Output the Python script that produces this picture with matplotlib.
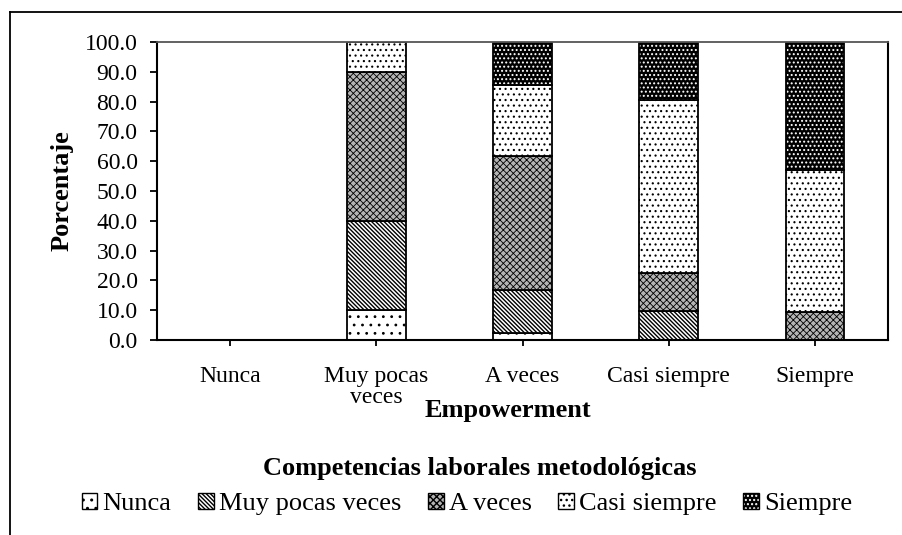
import matplotlib
matplotlib.use("Agg")
import matplotlib.pyplot as plt
from matplotlib.patches import Patch
from matplotlib.lines import Line2D
import numpy as np

plt.rcParams["font.family"] = ["Liberation Serif", "DejaVu Serif"]

# Data
categories = ["Nunca", "Muy pocas\nveces", "A veces", "Casi siempre", "Siempre"]
series_names = ["Nunca", "Muy pocas veces", "A veces", "Casi siempre", "Siempre"]
nunca = [0.0, 10.0, 2.4, 0.0, 0.0]
muy_pocas = [0.0, 30.0, 14.3, 9.7, 0.0]
a_veces = [0.0, 50.0, 45.2, 12.9, 9.5]
casi_siempre = [0.0, 10.0, 23.8, 58.1, 47.6]
siempre = [0.0, 0.0, 14.3, 19.4, 42.9]
values = [nunca, muy_pocas, a_veces, casi_siempre, siempre]

# Styles: (face, hatch colour, hatch, hatch linewidth)
styles = [
    ("white", "black", "..", 0.8),
    ("white", "black", "\\" * 8, 1.0),
    ("#b4b4b4", "black", "xxxxx", 0.6),
    ("white", "black", "...", 0.8),
    ("black", "white", "....", 0.9),
]

fig = plt.figure(figsize=(9.02, 5.35), dpi=100)
ax = fig.add_axes([157 / 902, 1 - 340 / 535, (888 - 157) / 902, (340 - 42) / 535])

x = np.arange(len(categories))
width = 0.40
bottom = np.zeros(len(categories))
handles = []
for vals, (face, hcol, hatch, hlw) in zip(values, styles):
    vals = np.array(vals)
    with plt.rc_context({"hatch.linewidth": hlw}):
        ax.bar(x, vals, width, bottom=bottom, color=face, edgecolor=hcol,
               hatch=hatch, linewidth=0)
        fill = Patch(facecolor=face, edgecolor=hcol, hatch=hatch, linewidth=0)
    ax.bar(x, vals, width, bottom=bottom, fill=False, edgecolor="black",
           linewidth=1.3)
    outline = Patch(fill=False, edgecolor="black", linewidth=1.0)
    handles.append((fill, outline))
    bottom += vals

ax.set_xlim(-0.5, len(categories) - 0.5)
ax.set_ylim(0, 100)
ax.set_yticks(np.arange(0, 101, 10))
ax.set_yticklabels([f"{v:.1f}" for v in np.arange(0, 101, 10)], fontsize=17)
ax.set_xticks(x)
ax.set_xticklabels(categories, fontsize=17, linespacing=1.0)
ax.tick_params(axis="y", length=5, width=1.3, pad=9)
ax.tick_params(axis="x", length=4, width=1.3, pad=15)
for side in ["left", "bottom", "right"]:
    ax.spines[side].set_linewidth(1.5)
ax.spines["top"].set_color("#555555")
ax.spines["top"].set_linewidth(1.3)

fig.text(62 / 902, 1 - 191 / 535, "Porcentaje", rotation=90, fontsize=19,
         fontweight="bold", ha="center", va="center")
fig.text(508 / 902, 1 - 410 / 535, "Empowerment", fontsize=19,
         fontweight="bold", ha="center", va="center")
fig.text(480 / 902, 1 - 468 / 535, "Competencias laborales metodológicas",
         fontsize=19, fontweight="bold", ha="center", va="center")

leg = fig.legend(handles, series_names, loc="center", ncol=5,
                 bbox_to_anchor=(467 / 902, 1 - 504 / 535), frameon=False,
                 fontsize=19, handlelength=0.6, handleheight=0.6,
                 handletextpad=0.2, columnspacing=1.0, borderpad=0)

# outer chart border (only top and left visible)
fig.add_artist(Line2D([10 / 902, 10 / 902], [0, 1 - 12 / 535], color="black", lw=1.3))
fig.add_artist(Line2D([10 / 902, 1], [1 - 12 / 535, 1 - 12 / 535], color="black", lw=1.3))

fig.savefig("out.png", dpi=100)
